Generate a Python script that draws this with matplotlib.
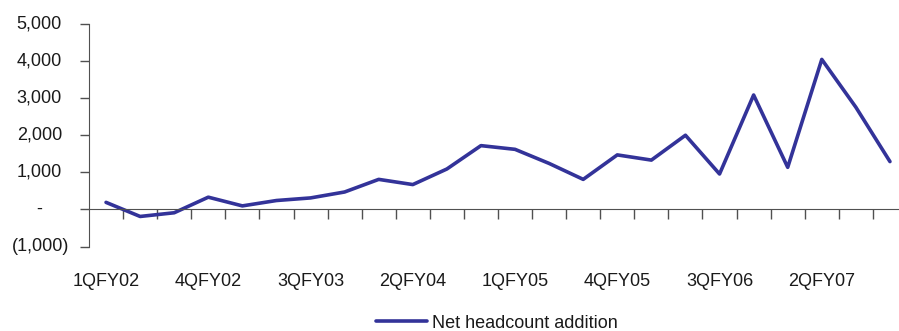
import matplotlib
matplotlib.use("Agg")
import matplotlib.pyplot as plt
from matplotlib import transforms

plt.rcParams["font.family"] = ["Liberation Sans", "DejaVu Sans"]

QUARTERS = [
    "1QFY02", "2QFY02", "3QFY02", "4QFY02",
    "1QFY03", "2QFY03", "3QFY03", "4QFY03",
    "1QFY04", "2QFY04", "3QFY04", "4QFY04",
    "1QFY05", "2QFY05", "3QFY05", "4QFY05",
    "1QFY06", "2QFY06", "3QFY06", "4QFY06",
    "1QFY07", "2QFY07", "3QFY07", "4QFY07",
]
NET_ADDITION = [
    190, -190, -90, 330, 95, 240, 310, 470,
    810, 670, 1090, 1720, 1620, 1240, 810, 1470,
    1330, 2000, 955, 3085, 1135, 4045, 2755, 1290,
]
Y_TICKS = [-1000, 0, 1000, 2000, 3000, 4000, 5000]
LINE_COLOR = "#333399"
AXIS_COLOR = "#505050"


def y_label(v):
    if v == 0:
        return "-"
    if v < 0:
        return "({:,.0f})".format(-v)
    return "{:,.0f}".format(v)


def plot_headcount():
    fig = plt.figure(figsize=(8.99, 3.31), dpi=100)
    ax = fig.add_axes([89 / 899, 84.5 / 331, 818 / 899, 222.5 / 331])

    x = list(range(len(QUARTERS)))
    ax.plot(x, NET_ADDITION, color=LINE_COLOR, lw=2.6,
            label="Net headcount addition",
            solid_joinstyle="round", solid_capstyle="round")

    ax.set_xlim(-0.5, len(QUARTERS) - 0.5)
    ax.set_ylim(-1000, 5000)

    for side in ["top", "right"]:
        ax.spines[side].set_visible(False)
    ax.spines["left"].set_color(AXIS_COLOR)
    ax.spines["bottom"].set_color(AXIS_COLOR)
    ax.spines["bottom"].set_position(("data", 0))

    # category boundary ticks on the zero line, labels every third quarter
    ax.set_xticks([i + 0.5 for i in x], minor=True)
    ax.set_xticks(x[::3])
    ax.set_xticklabels(QUARTERS[::3], fontsize=13, color="#1a1a1a")
    ax.tick_params(axis="x", which="major", length=0, pad=46)
    ax.tick_params(axis="x", which="minor", length=7, width=1,
                   color=AXIS_COLOR, direction="out")

    ax.set_yticks(Y_TICKS)
    ax.set_yticklabels([])
    ax.tick_params(axis="y", length=6.5, width=1, color=AXIS_COLOR,
                   direction="out")
    for v in Y_TICKS:
        if v == 0:
            off = 33.5
        elif v < 0:
            off = 14.4
        else:
            off = 19.4
        tr = transforms.offset_copy(ax.get_yaxis_transform(), fig=fig,
                                    x=-off, y=0, units="points")
        ax.text(0, v, y_label(v), transform=tr, ha="right", va="center",
                fontsize=13, color="#1a1a1a")

    leg = fig.legend(loc="center", bbox_to_anchor=(0.553, 0.024),
                     frameon=False, fontsize=13, handlelength=2.8,
                     handletextpad=0.3)
    for t in leg.get_texts():
        t.set_color("#1a1a1a")

    fig.savefig("out.png", dpi=100)


if __name__ == "__main__":
    plot_headcount()
